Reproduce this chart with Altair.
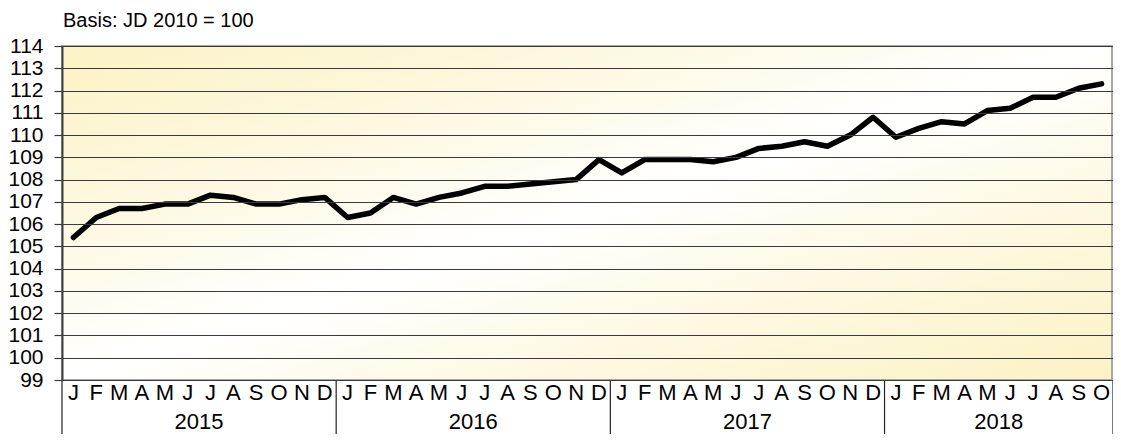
import altair as alt
import pandas as pd

# ---- data ----
years = ["2015", "2016", "2017", "2018"]
month_letters = ["J", "F", "M", "A", "M", "J", "J", "A", "S", "O", "N", "D"]
values_2015 = [105.4, 106.3, 106.7, 106.7, 106.9, 106.9, 107.3, 107.2, 106.9, 106.9, 107.1, 107.2]
values_2016 = [106.3, 106.5, 107.2, 106.9, 107.2, 107.4, 107.7, 107.7, 107.8, 107.9, 108.0, 108.9]
values_2017 = [108.3, 108.9, 108.9, 108.9, 108.8, 109.0, 109.4, 109.5, 109.7, 109.5, 110.0, 110.8]
values_2018 = [109.9, 110.3, 110.6, 110.5, 111.1, 111.2, 111.7, 111.7, 112.1, 112.3]
y_ticks = list(range(99, 115))
y_domain = [99, 114]
title_text = "Basis: JD 2010 = 100"

rows = []
year_rows = []
idx = 0
for yr, vals in zip(years, [values_2015, values_2016, values_2017, values_2018]):
    start = idx
    for m, v in enumerate(vals):
        rows.append({"i": idx, "month": month_letters[m], "year": yr, "value": v})
        idx += 1
    year_rows.append({"year": yr, "start": start - 0.5, "end": idx - 0.5,
                      "mid": (start + idx - 1) / 2})
df = pd.DataFrame(rows)
dfy = pd.DataFrame(year_rows)
bounds = pd.DataFrame({"b": [year_rows[0]["start"]] + [r["end"] for r in year_rows]})

W, H = 1051, 334
FONT = "Liberation Sans"

xscale = alt.Scale(domain=[-0.5, len(df) - 0.5], nice=False, zero=False)
yscale = alt.Scale(domain=y_domain, nice=False, zero=False)

gradient = alt.Gradient(
    gradient="linear",
    x1=0, y1=0, x2=1, y2=1,
    stops=[
        alt.GradientStop(color="#fcf2c4", offset=0),
        alt.GradientStop(color="#fdf9e4", offset=0.3),
        alt.GradientStop(color="#ffffff", offset=0.5),
        alt.GradientStop(color="#fdf9e4", offset=0.7),
        alt.GradientStop(color="#fcf2c4", offset=1),
    ],
)

bg = alt.Chart(alt.Data(values=[{"a": 1}])).mark_rect(
    fill=gradient, stroke="#a8a8a8", strokeWidth=2
).encode(x=alt.value(0), x2=alt.value(W - 1), y=alt.value(0), y2=alt.value(H))

line = alt.Chart(df).mark_line(
    color="black", strokeWidth=5.5, strokeJoin="round", strokeCap="round"
).encode(
    x=alt.X("i:Q", scale=xscale, axis=None),
    y=alt.Y(
        "value:Q",
        scale=yscale,
        axis=alt.Axis(
            values=y_ticks, title=None, grid=True, gridColor="#3a3a3a", gridWidth=1.2,
            gridOpacity=1, tickSize=8, tickColor="#3a3a3a", tickWidth=1.2,
            domainColor="#404040", domainWidth=2, labelFontSize=21, labelFont=FONT,
            labelColor="black", labelPadding=11, zindex=1, format="d",
        ),
    ),
)

months = alt.Chart(df).mark_text(
    fontSize=22, font=FONT, baseline="alphabetic", color="black"
).encode(x=alt.X("i:Q", scale=xscale), y=alt.value(H + 20), text="month:N")

yrs = alt.Chart(dfy).mark_text(
    fontSize=22, font=FONT, baseline="alphabetic", color="black"
).encode(x=alt.X("mid:Q", scale=xscale), y=alt.value(H + 49), text="year:N")

seps = alt.Chart(bounds).mark_rule(color="#222222", strokeWidth=1.2).encode(
    x=alt.X("b:Q", scale=xscale), y=alt.value(H), y2=alt.value(H + 60)
)

title = alt.Chart(alt.Data(values=[{"t": title_text}])).mark_text(
    fontSize=20, font=FONT, baseline="alphabetic", align="left", color="black"
).encode(x=alt.value(1), y=alt.value(-19), text="t:N")

chart = alt.layer(bg, line, months, yrs, seps, title).properties(
    width=W, height=H,
    autosize=alt.AutoSizeParams(type="none"),
    padding={"left": 54, "top": 38, "right": 0, "bottom": 54},
).configure_view(stroke=None)

chart.save("out.html", embed_options={"renderer": "svg", "actions": False})
